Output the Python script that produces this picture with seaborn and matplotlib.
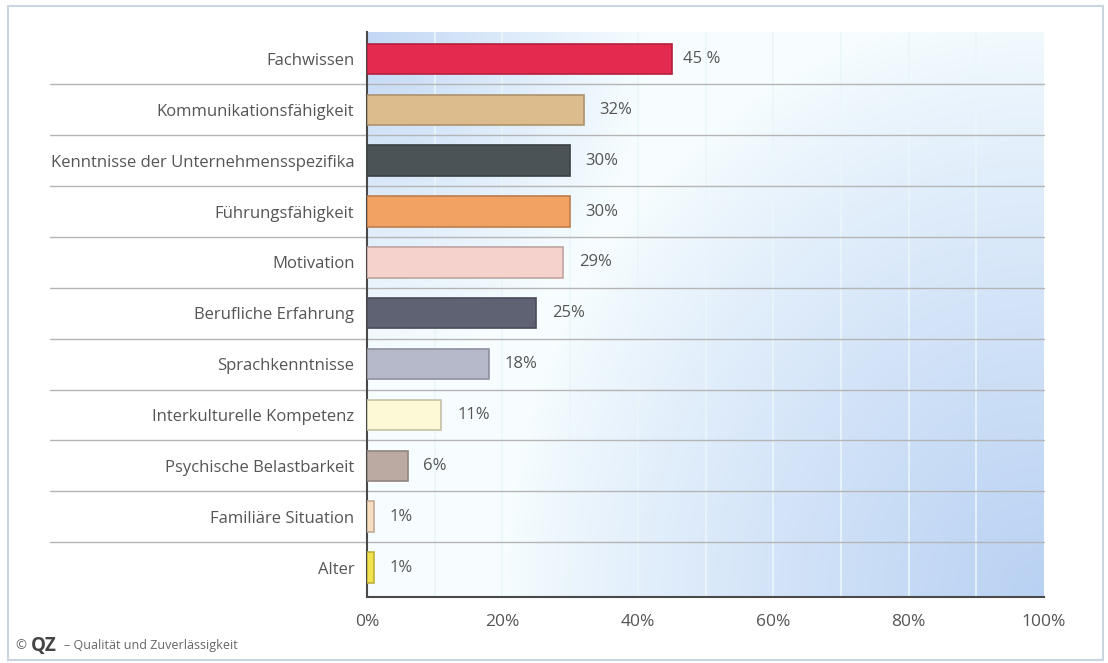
import numpy as np
import pandas as pd
import matplotlib
matplotlib.use("Agg")
import matplotlib.pyplot as plt
import seaborn as sns
from matplotlib.patches import Rectangle
from matplotlib.colors import to_rgb

categories = ["Fachwissen", "Kommunikationsfähigkeit", "Kenntnisse der Unternehmensspezifika",
              "Führungsfähigkeit", "Motivation", "Berufliche Erfahrung", "Sprachkenntnisse",
              "Interkulturelle Kompetenz", "Psychische Belastbarkeit", "Familiäre Situation", "Alter"]
values = [45, 32, 30, 30, 29, 25, 18, 11, 6, 1, 1]
value_labels = ["45 %", "32%", "30%", "30%", "29%", "25%", "18%", "11%", "6%", "1%", "1%"]
colors = ["#e52a50", "#dcbc8c", "#4b5356", "#f2a262", "#f6d2cd", "#5f6272", "#b6b9ca",
          "#fdf8d6", "#baaaa2", "#f8dcc0", "#f2e24e"]
xticks = [0, 20, 40, 60, 80, 100]
xtick_labels = ["0%", "20%", "40%", "60%", "80%", "100%"]

sns.set_theme(style="white")
plt.rcParams['font.family'] = ['Open Sans', 'DejaVu Sans']

W, H = 1108, 663
fig = plt.figure(figsize=(W / 100, H / 100), dpi=100)
fig.patch.set_facecolor("white")

# outer frame
fig.add_artist(Rectangle((8 / W, 1 - 660 / H), (1103 - 8) / W, (660 - 6) / H,
                         transform=fig.transFigure, fill=False, edgecolor="#c9d6e2", lw=1.5))

ax = fig.add_axes([367 / W, 1 - 597 / H, (1044 - 367) / W, (597 - 32) / H])

# gradient background
nx, ny = 300, 200
gx = np.linspace(0, 1, nx)
gy = np.linspace(0, 1, ny)  # 0 = top, 1 = bottom
X, Y = np.meshgrid(gx, gy)
b1 = np.clip(1 - np.sqrt((X / 0.42) ** 2 + (Y / 0.6) ** 2), 0, 1) * 0.85
b2 = np.clip(1 - np.sqrt(((1 - X) / 0.8) ** 2 + ((1 - Y) / 1.05) ** 2), 0, 1) ** 0.8
b = np.maximum(b1, b2)
white = np.array([0.97, 0.995, 1.0])
blue = np.array(to_rgb("#b9d1f3"))
img = white[None, None, :] * (1 - b[..., None]) + blue[None, None, :] * b[..., None]
ax.imshow(img, extent=[0, 100, 10.58, -0.53], aspect="auto", zorder=0, interpolation="bilinear")

df = pd.DataFrame({"Kategorie": categories, "Wert": values})
sns.barplot(data=df, x="Wert", y="Kategorie", hue="Kategorie", palette=colors, legend=False,
            orient="h", width=0.6, ax=ax, zorder=3, saturation=1)
for p, c in zip(ax.patches, colors):
    r, g, bb = to_rgb(c)
    p.set_edgecolor((r * 0.78, g * 0.78, bb * 0.78))
    p.set_linewidth(1.2)

for i, (v, lab) in enumerate(zip(values, value_labels)):
    off = 1.7 if v >= 40 else 2.3
    ax.text(v + off, i, lab, va="center", ha="left", fontsize=12, color="#555555", zorder=4)

# vertical gridlines
for xv in range(10, 100, 10):
    ax.axvline(xv, color="#eaf6fa", lw=1.2, zorder=1)

# horizontal separators extending into label area
for i in range(len(categories) - 1):
    ax.axhline(i + 0.5, xmin=(50 - 367) / (1044 - 367), xmax=1, color="#b5b5b5", lw=1,
               clip_on=False, zorder=2)

ax.set_xlim(0, 100)
ax.set_ylim(10.58, -0.53)
ax.set_xticks(xticks)
ax.set_xticklabels(xtick_labels)
ax.set_xlabel("")
ax.set_ylabel("")
ax.tick_params(axis="both", length=0, colors="#555555")
ax.tick_params(axis="y", pad=9, labelsize=12)
ax.tick_params(axis="x", pad=12, labelsize=12.5)
for s in ["top", "right"]:
    ax.spines[s].set_visible(False)
for s in ["left", "bottom"]:
    ax.spines[s].set_color("#4a4a4a")
    ax.spines[s].set_linewidth(1.5)
ax.grid(False)

# footer
fig.text(15 / W, 1 - 646 / H, "©", fontsize=9.5, color="#666666", va="center")
fig.text(31 / W, 1 - 646 / H, "QZ", fontsize=13.5, fontweight="bold", color="#444444", va="center")
fig.text(64 / W, 1 - 646 / H, "– Qualität und Zuverlässigkeit", fontsize=9, color="#666666", va="center")

fig.savefig("out.png", dpi=100)
